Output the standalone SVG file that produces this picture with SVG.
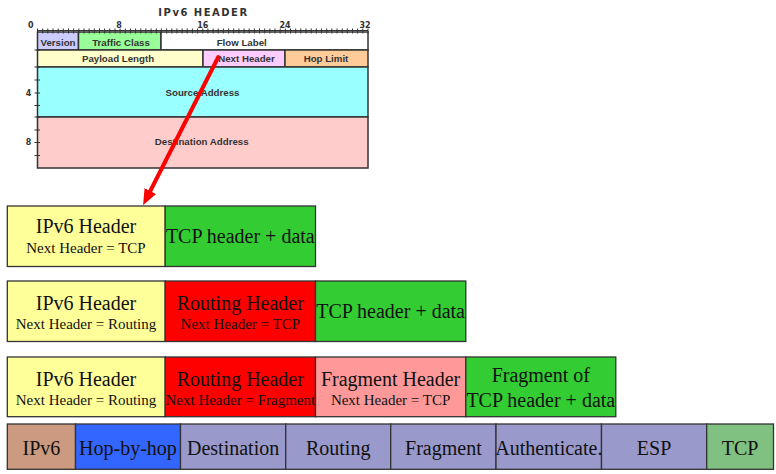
<svg xmlns="http://www.w3.org/2000/svg" width="776" height="474" viewBox="0 0 776 474">
<style>
.hb{stroke:#333;stroke-width:1.5}
.hf{font-family:"Liberation Sans",Arial,sans-serif;font-weight:bold;font-size:9.7px;fill:#333;text-anchor:middle}
.ax{font-family:"DejaVu Sans",sans-serif;font-weight:bold;font-size:8px;fill:#333;text-anchor:middle}
.tk{stroke:#333;stroke-width:1}
.bx{stroke:#333;stroke-width:1.3}
.big{font-family:"Liberation Serif","Times New Roman",serif;font-size:20px;fill:#111;text-anchor:middle}
.sm{font-family:"Liberation Serif","Times New Roman",serif;font-size:15px;fill:#111;text-anchor:middle}
</style>
<defs>
<marker id="ah" viewBox="0 0 10 8" refX="0" refY="4" markerWidth="4" markerHeight="3.6" orient="auto" markerUnits="strokeWidth">
<path d="M0,0 L10,4 L0,8 z" fill="#ff0000"/>
</marker>
</defs>
<rect width="776" height="474" fill="#fff"/>

<g id="ipv6-header-format">
<text x="203.5" y="15.5" font-family="DejaVu Sans,sans-serif" font-weight="bold" font-size="10px" letter-spacing="1.5" fill="#333" text-anchor="middle">IPv6 HEADER</text>
<text class="ax" x="30.7" y="28">0</text>
<text class="ax" x="119" y="28">8</text>
<text class="ax" x="202.7" y="28">16</text>
<text class="ax" x="285" y="28">24</text>
<text class="ax" x="365" y="28">32</text>
<text class="ax" x="28.5" y="96">4</text>
<text class="ax" x="28.5" y="145">8</text>
<rect class="hb" x="37.5" y="32" width="41" height="18" fill="#ccccff"/>
<rect class="hb" x="78.5" y="32" width="82.5" height="18" fill="#99ff99"/>
<rect class="hb" x="161" y="32" width="207" height="18" fill="#ffffff"/>
<rect class="hb" x="37.5" y="50" width="165.5" height="17" fill="#ffffcc"/>
<rect class="hb" x="203" y="50" width="82" height="17" fill="#ffccff"/>
<rect class="hb" x="285" y="50" width="83" height="17" fill="#ffcc99"/>
<rect class="hb" x="37.5" y="67" width="330.5" height="50" fill="#99ffff"/>
<rect class="hb" x="37.5" y="117" width="330.5" height="51" fill="#ffcccc"/>
<path class="tk" d="M37.5,30.5H368 M37.5,28.5V33.5 M42.7,28.5V33.5 M47.8,28.5V33.5 M53,28.5V33.5 M58.2,28.5V33.5 M63.3,28.5V33.5 M68.5,28.5V33.5 M73.6,28.5V33.5 M78.8,28.5V33.5 M84,28.5V33.5 M89.1,28.5V33.5 M94.3,28.5V33.5 M99.5,28.5V33.5 M104.6,28.5V33.5 M109.8,28.5V33.5 M115,28.5V33.5 M120.1,28.5V33.5 M125.3,28.5V33.5 M130.4,28.5V33.5 M135.6,28.5V33.5 M140.8,28.5V33.5 M145.9,28.5V33.5 M151.1,28.5V33.5 M156.3,28.5V33.5 M161.4,28.5V33.5 M166.6,28.5V33.5 M171.8,28.5V33.5 M176.9,28.5V33.5 M182.1,28.5V33.5 M187.2,28.5V33.5 M192.4,28.5V33.5 M197.6,28.5V33.5 M202.8,28.5V33.5 M207.9,28.5V33.5 M213.1,28.5V33.5 M218.2,28.5V33.5 M223.4,28.5V33.5 M228.6,28.5V33.5 M233.7,28.5V33.5 M238.9,28.5V33.5 M244.1,28.5V33.5 M249.2,28.5V33.5 M254.4,28.5V33.5 M259.5,28.5V33.5 M264.7,28.5V33.5 M269.9,28.5V33.5 M275,28.5V33.5 M280.2,28.5V33.5 M285.4,28.5V33.5 M290.5,28.5V33.5 M295.7,28.5V33.5 M300.8,28.5V33.5 M306,28.5V33.5 M311.2,28.5V33.5 M316.3,28.5V33.5 M321.5,28.5V33.5 M326.7,28.5V33.5 M331.8,28.5V33.5 M337,28.5V33.5 M342.2,28.5V33.5 M347.3,28.5V33.5 M352.5,28.5V33.5 M357.6,28.5V33.5 M362.8,28.5V33.5 M368,28.5V33.5"/>
<path class="tk" d="M34.5,50H40 M34.5,67H40 M34.5,80H40 M34.5,93H40 M34.5,105.5H40 M34.5,117H40 M34.5,130H40 M34.5,142.5H40 M34.5,155.5H40"/>
<text class="hf" x="58" y="45.5">Version</text>
<text class="hf" x="121" y="45.5">Traffic Class</text>
<text class="hf" x="241.7" y="45.5">Flow Label</text>
<text class="hf" x="118" y="62">Payload Length</text>
<text class="hf" x="246.5" y="62">Next Header</text>
<text class="hf" x="326" y="62">Hop Limit</text>
<text class="hf" x="202.5" y="96">Source Address</text>
<text class="hf" x="201.7" y="145">Destination Address</text>
</g>

<g id="connectors">
<line x1="218.3" y1="57" x2="150.3" y2="191" stroke="#ff0000" stroke-width="4" stroke-linecap="round" marker-end="url(#ah)"/>
</g>

<g id="packet-tcp">
<rect class="bx" x="7.3" y="206" width="157.9" height="60.5" fill="#ffff99"/>
<rect class="bx" x="165.2" y="206" width="150.3" height="60.5" fill="#33cc33"/>
<text class="big" x="86" y="233">IPv6 Header</text>
<text class="sm" x="86" y="253">Next Header = TCP</text>
<text class="big" x="240.3" y="243">TCP header + data</text>
</g>

<g id="packet-routing">
<rect class="bx" x="7.3" y="281" width="157.9" height="60.5" fill="#ffff99"/>
<rect class="bx" x="165.2" y="281" width="150.3" height="60.5" fill="#ff0000"/>
<rect class="bx" x="315.5" y="281" width="150.3" height="60.5" fill="#33cc33"/>
<text class="big" x="86" y="310">IPv6 Header</text>
<text class="sm" x="86" y="329">Next Header = Routing</text>
<text class="big" x="240.3" y="310">Routing Header</text>
<text class="sm" x="240.3" y="329">Next Header = TCP</text>
<text class="big" x="390.6" y="318">TCP header + data</text>
</g>

<g id="packet-fragment">
<rect class="bx" x="7.3" y="357" width="157.9" height="59.7" fill="#ffff99"/>
<rect class="bx" x="165.2" y="357" width="150.3" height="59.7" fill="#ff0000"/>
<rect class="bx" x="315.5" y="357" width="150.3" height="59.7" fill="#ff9999"/>
<rect class="bx" x="465.8" y="357" width="150" height="59.7" fill="#33cc33"/>
<text class="big" x="86" y="386">IPv6 Header</text>
<text class="sm" x="86" y="404.5">Next Header = Routing</text>
<text class="big" x="240.3" y="386">Routing Header</text>
<text class="sm" x="240.3" y="404.5">Next Header = Fragment</text>
<text class="big" x="390.6" y="386">Fragment Header</text>
<text class="sm" x="390.6" y="404.5">Next Header = TCP</text>
<text class="big" x="540.8" y="382">Fragment of</text>
<text class="big" x="540.8" y="407">TCP header + data</text>
</g>

<g id="header-order">
<rect class="bx" x="7.3" y="424" width="68.2" height="45.3" fill="#cc9a80"/>
<rect class="bx" x="75.5" y="424" width="105" height="45.3" fill="#3366ff"/>
<rect class="bx" x="180.5" y="424" width="105.2" height="45.3" fill="#9999cc"/>
<rect class="bx" x="285.7" y="424" width="105" height="45.3" fill="#9999cc"/>
<rect class="bx" x="390.7" y="424" width="105.3" height="45.3" fill="#9999cc"/>
<rect class="bx" x="496" y="424" width="105.5" height="45.3" fill="#9999cc"/>
<rect class="bx" x="601.5" y="424" width="105.2" height="45.3" fill="#9999cc"/>
<rect class="bx" x="706.7" y="424" width="66.8" height="45.3" fill="#80c080"/>
<text class="big" x="41.4" y="455">IPv6</text>
<text class="big" x="128" y="455">Hop-by-hop</text>
<text class="big" x="233.1" y="455">Destination</text>
<text class="big" x="338.2" y="455">Routing</text>
<text class="big" x="443.4" y="455">Fragment</text>
<text class="big" x="548.8" y="455">Authenticate.</text>
<text class="big" x="654.1" y="455">ESP</text>
<text class="big" x="740.1" y="455">TCP</text>
</g>
</svg>
